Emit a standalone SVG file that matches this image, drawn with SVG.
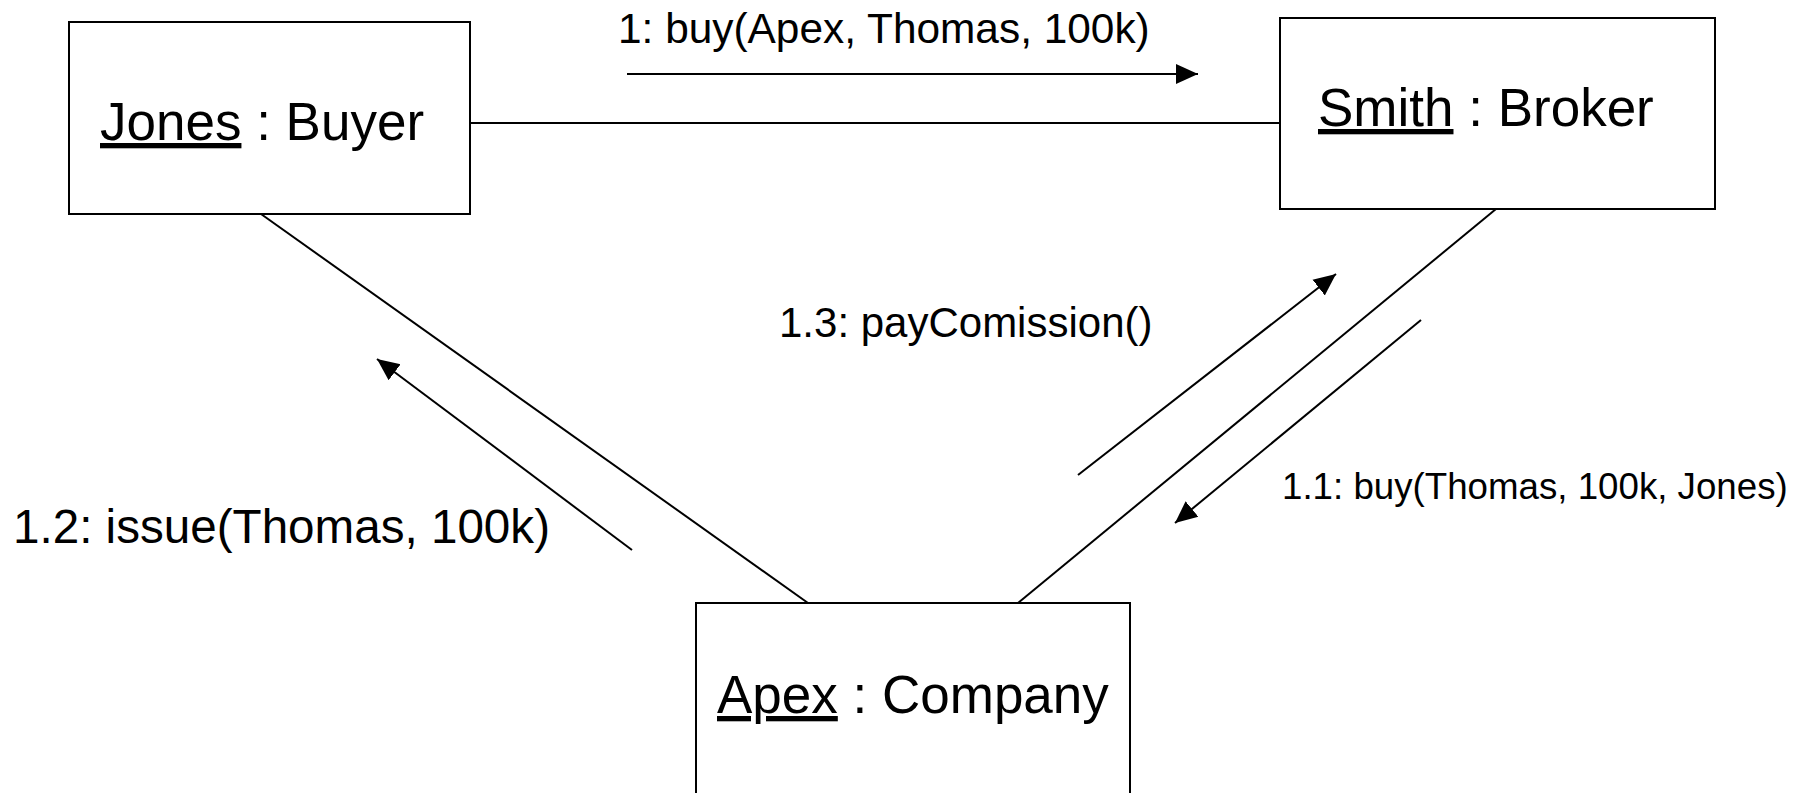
<svg xmlns="http://www.w3.org/2000/svg" width="1813" height="793" viewBox="0 0 1813 793">
  <style>
    .box { fill: #ffffff; stroke: #000000; stroke-width: 2; }
    .link { stroke: #000000; stroke-width: 2; fill: none; }
    .msg { stroke: #000000; stroke-width: 2; fill: none; marker-end: url(#arrow); }
    .t { font-family: "Liberation Sans", Arial, Helvetica, sans-serif; fill: #000000; }
    .node { font-size: 53px; }
  </style>
  <defs>
    <marker id="arrow" viewBox="0 0 22 22" refX="22" refY="11" markerWidth="22" markerHeight="22" markerUnits="userSpaceOnUse" orient="auto">
      <path d="M0,1 L22,11 L0,21 z" fill="#000000"/>
    </marker>
  </defs>
  <rect width="1813" height="793" fill="#ffffff"/>

  <g id="connectors">
    <line class="link" x1="470" y1="123" x2="1280" y2="123"/>
    <line class="link" x1="261" y1="214" x2="808" y2="603"/>
    <line class="link" x1="1496" y1="209" x2="1018" y2="603"/>
    <line class="msg" x1="627" y1="74" x2="1198" y2="74"/>
    <line class="msg" x1="632" y1="550" x2="377" y2="359"/>
    <line class="msg" x1="1078" y1="475" x2="1336" y2="274"/>
    <line class="msg" x1="1421" y1="320" x2="1175" y2="523"/>
    <text class="t" x="618" y="43" font-size="42.4">1: buy(Apex, Thomas, 100k)</text>
    <text class="t" x="13" y="543" font-size="47.6">1.2: issue(Thomas, 100k)</text>
    <text class="t" x="779" y="337" font-size="42">1.3: payComission()</text>
    <text class="t" x="1282" y="499" font-size="36.7">1.1: buy(Thomas, 100k, Jones)</text>
  </g>

  <g id="jones">
    <rect class="box" x="69" y="22" width="401" height="192"/>
    <text class="t node" x="100" y="140"><tspan text-decoration="underline">Jones</tspan> : Buyer</text>
  </g>

  <g id="smith">
    <rect class="box" x="1280" y="18" width="435" height="191"/>
    <text class="t node" x="1318" y="126"><tspan text-decoration="underline">Smith</tspan> : Broker</text>
  </g>

  <g id="apex">
    <rect class="box" x="696" y="603" width="434" height="230"/>
    <text class="t node" x="717" y="713"><tspan text-decoration="underline">Apex</tspan> : Company</text>
  </g>
</svg>
